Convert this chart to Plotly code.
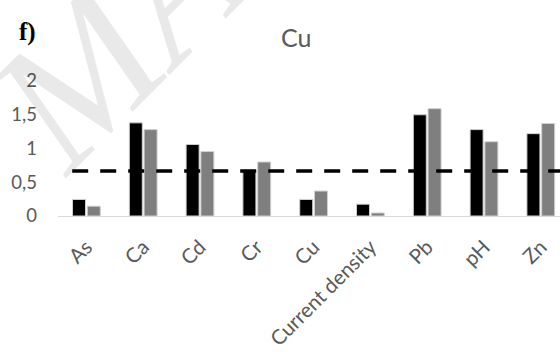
import plotly.graph_objects as go

categories = ["As", "Ca", "Cd", "Cr", "Cu", "Current density", "Pb", "pH", "Zn"]
series_black = [0.245, 1.38, 1.06, 0.68, 0.245, 0.175, 1.50, 1.28, 1.22]
series_gray = [0.145, 1.28, 0.955, 0.80, 0.37, 0.045, 1.59, 1.10, 1.37]
threshold = 0.667
y_ticks = [0, 0.5, 1, 1.5, 2]

W, H = 560, 352
L, R, T, B = 58, 0, 81, 136
PW, PH = W - L - R, H - T - B
TXT = "#595959"
FONT = "Lato"


def px(x):
    return (x - L) / PW


def py(y):
    return (H - B - y) / PH


fig = go.Figure()
fig.add_trace(go.Bar(x=categories, y=series_black, marker=dict(color="#000000", line=dict(color="#d0d0d0", width=1)), showlegend=False))
fig.add_trace(go.Bar(x=categories, y=series_gray, marker=dict(color="#7f7f7f", line=dict(color="#d0d0d0", width=1)), showlegend=False))

fig.add_shape(type="line", xref="x", yref="y", x0=-0.25, x1=9, y0=threshold, y1=threshold,
              line=dict(color="#000000", width=3.5, dash="16px,12px"), layer="above")

# watermark
fig.add_annotation(text="MANUSCRIPT", x=px(425), y=py(-270), xref="paper", yref="paper",
                   showarrow=False, textangle=-45, xanchor="center", yanchor="middle",
                   font=dict(family="Liberation Serif", size=185, color="rgba(0,0,0,0.085)", style="italic"))

fig.add_annotation(text="Cu", x=px(296), y=py(37), xref="paper", yref="paper", showarrow=False,
                   xanchor="center", yanchor="middle", font=dict(family=FONT, size=25, color=TXT))
fig.add_annotation(text="<b>f)</b>", x=px(27), y=py(32), xref="paper", yref="paper", showarrow=False,
                   xanchor="center", yanchor="middle", font=dict(family="Liberation Serif", size=25, color="#000000"))

cat_px = 56.8
fig.update_layout(
    width=W, height=H, margin=dict(l=L, r=R, t=T, b=B, pad=0),
    paper_bgcolor="white", plot_bgcolor="white",
    barmode="group", bargap=0.48, bargroupgap=0.12,
    separators=", ",
    font=dict(family=FONT, color=TXT),
    xaxis=dict(type="category", range=[-0.5, -0.5 + PW / cat_px], showline=True, linecolor="#d9d9d9",
               linewidth=1, showgrid=False, zeroline=False, tickangle=-45, ticks="",
               ticklabelstandoff=10, tickfont=dict(family=FONT, size=20.5, color=TXT)),
    yaxis=dict(range=[0, 2], tickvals=y_ticks, showgrid=False, zeroline=False, showline=False, ticks="",
               ticklabelstandoff=20, tickfont=dict(family=FONT, size=18.5, color=TXT)),
)

fig.write_html("out.html")
